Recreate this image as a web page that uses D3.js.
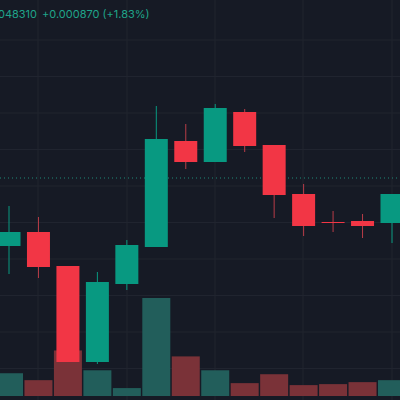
<!DOCTYPE html><html><head><script src="https://cdn.jsdelivr.net/npm/d3@7"></script>
<style>body{margin:0;background:#161a25}svg{display:block}</style></head><body><svg id="c" width="400" height="400"></svg>
<script>
const opens  =[0.04763,0.04777,0.04743,0.04647,0.04725,0.04762,0.04868,0.04847,0.04897,0.04864,0.04815,0.04787,0.04788,0.04786];
const closes =[0.04777,0.04742,0.04647,0.04727,0.04764,0.04870,0.04847,0.04901,0.04863,0.04814,0.04783,0.04787,0.04783,0.04815];
const highs  =[0.04803,0.04792,0.04743,0.04737,0.04769,0.04903,0.04885,0.04905,0.04900,0.04864,0.04825,0.04798,0.04795,0.04815];
const lows   =[0.04735,0.04731,0.04647,0.04645,0.04719,0.04762,0.04840,0.04847,0.04857,0.04791,0.04773,0.04777,0.04771,0.04766];
const volumes=[23,16,46,26,8,99,40,26,13,22,11,12,14,16];
const lastPrice=0.04831;
const headerPrice="0.048310", headerChange="+0.000870 (+1.83%)";
const svg=d3.select("#c");
svg.append("rect").attr("width",400).attr("height",400).attr("fill","#161a25");
const x=d3.scaleLinear().domain([0,13]).range([9,392]);
const y=d3.scaleLinear().domain([0.04609,0.05009]).range([400,0]);
const yv=d3.scaleLinear().domain([0,100]).range([396,297]);
const g=svg.append("g");
[38,127,215,303,392].forEach(v=>g.append("line").attr("x1",v).attr("x2",v).attr("y1",0).attr("y2",400).attr("stroke","#20242f"));
d3.range(40,400,36.5).forEach(v=>g.append("line").attr("x1",0).attr("x2",400).attr("y1",v).attr("y2",v).attr("stroke","#20242f"));
const up=i=>closes[i]>opens[i];
const idx=d3.range(opens.length);
svg.selectAll(".v").data(idx).join("rect").attr("x",i=>x(i)-14).attr("width",28)
 .attr("y",i=>yv(volumes[i])).attr("height",i=>yv(0)-yv(volumes[i]))
 .attr("fill",i=>up(i)?"#225e5b":"#7a3238");
svg.append("line").attr("x1",0).attr("x2",400).attr("y1",y(lastPrice)).attr("y2",y(lastPrice))
 .attr("stroke","#1f8a78").attr("stroke-dasharray","1,3");
svg.selectAll(".w").data(idx).join("line").attr("x1",i=>x(i)).attr("x2",i=>x(i))
 .attr("y1",i=>y(highs[i])).attr("y2",i=>y(lows[i])).attr("stroke",i=>up(i)?"#089981":"#b83c48").attr("stroke-width",1);
svg.selectAll(".b").data(idx).join("rect").attr("x",i=>x(i)-11.5).attr("width",23)
 .attr("y",i=>y(Math.max(opens[i],closes[i])))
 .attr("height",i=>Math.max(1,Math.abs(y(opens[i])-y(closes[i]))))
 .attr("fill",i=>up(i)?"#089981":"#f23645");
const t=svg.append("text").attr("y",18).attr("fill","#1fa58a").attr("font-family","Inter, sans-serif").attr("font-size",11);
t.append("tspan").attr("x",37).attr("text-anchor","end").text(headerPrice);
svg.append("text").attr("x",42).attr("y",18).attr("fill","#1fa58a").attr("font-family","Inter, sans-serif").attr("font-size",11).text(headerChange);
</script></body></html>
